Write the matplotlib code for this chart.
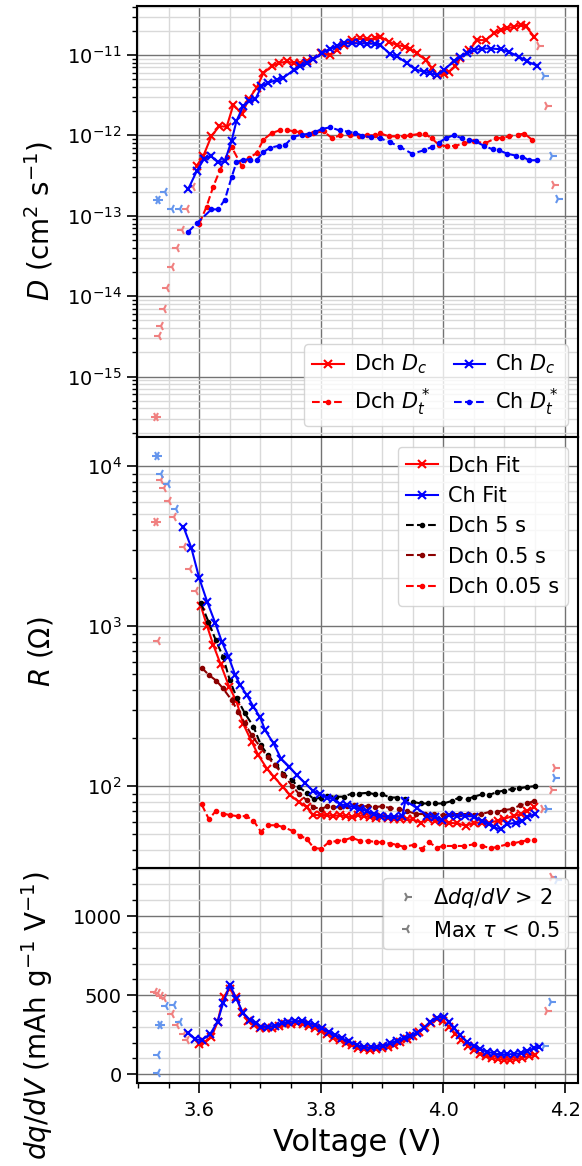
import numpy as np
import matplotlib
matplotlib.use('Agg')
import matplotlib.pyplot as plt
from matplotlib.ticker import MultipleLocator

# --- diffusion coefficients (units of 1e-12 cm^2/s) ---
DCH_DC_V = [3.596, 3.607, 3.620, 3.633, 3.645, 3.656, 3.670, 3.681, 3.694, 3.705,
            3.719, 3.730, 3.744, 3.755, 3.765, 3.776, 3.787, 3.800, 3.815, 3.826,
            3.837, 3.850, 3.864, 3.875, 3.889, 3.897, 3.911, 3.924, 3.938, 3.946,
            3.957, 3.971, 3.982, 3.990, 4.001, 4.009, 4.020, 4.028, 4.042, 4.056,
            4.070, 4.083, 4.094, 4.105, 4.116, 4.127, 4.135, 4.149]
DCH_DC = [0.42, 0.56, 0.98, 1.3, 1.28, 2.4, 1.85, 2.8, 3.9, 5.9,
          7.3, 7.9, 8.3, 7.9, 7.9, 8.3, 8.8, 10.5, 10.0, 11.5,
          13.3, 15.3, 16.1, 15.6, 16.1, 16.9, 14.6, 13.3, 12.7, 11.8,
          10.5, 8.7, 6.8, 5.6, 5.8, 6.2, 7.2, 9.1, 11.5, 15.3,
          15.3, 18.6, 20.4, 21.4, 22.5, 23.6, 23.0, 16.9]

DCH_DT_V = [3.600, 3.612, 3.623, 3.634, 3.645, 3.653, 3.670, 3.681, 3.694, 3.705,
            3.719, 3.733, 3.744, 3.755, 3.765, 3.776, 3.787, 3.804, 3.818, 3.831,
            3.848, 3.862, 3.875, 3.889, 3.897, 3.911, 3.924, 3.935, 3.946, 3.960,
            3.970, 3.981, 3.993, 4.007, 4.020, 4.034, 4.050, 4.069, 4.086, 4.097,
            4.108, 4.122, 4.133, 4.146]
DCH_DT = [0.079, 0.13, 0.23, 0.37, 0.54, 0.72, 0.41, 0.52, 0.60, 0.88,
          1.07, 1.16, 1.17, 1.12, 1.10, 1.0, 1.07, 1.12, 0.92, 1.0,
          1.01, 0.98, 1.0, 1.0, 1.06, 0.97, 0.97, 0.97, 1.0, 1.04,
          1.04, 0.92, 0.76, 0.73, 0.74, 0.80, 0.84, 0.80, 0.92, 0.93,
          0.97, 1.02, 1.05, 0.88]

CH_DC_V = [3.582, 3.596, 3.608, 3.619, 3.631, 3.642, 3.653, 3.661, 3.672, 3.682,
           3.692, 3.702, 3.713, 3.727, 3.738, 3.755, 3.765, 3.776, 3.787, 3.801,
           3.815, 3.826, 3.837, 3.850, 3.864, 3.875, 3.889, 3.897, 3.913, 3.924,
           3.941, 3.954, 3.968, 3.979, 3.990, 4.001, 4.017, 4.028, 4.039, 4.050,
           4.064, 4.079, 4.094, 4.108, 4.124, 4.138, 4.1545]
CH_DC = [0.215, 0.36, 0.51, 0.555, 0.46, 0.48, 0.85, 1.5, 2.3, 2.65,
         2.8, 4.07, 4.5, 4.9, 5.2, 6.5, 7.2, 7.9, 8.8, 10.5,
         12.0, 12.8, 14.0, 14.0, 14.0, 13.8, 13.8, 13.3, 10.2, 9.6,
         7.9, 6.6, 6.2, 5.9, 5.7, 6.5, 8.3, 9.5, 10.5, 11.5,
         12.0, 12.0, 11.8, 10.9, 9.5, 8.3, 7.3]

CH_DT_V = [3.582, 3.597, 3.620, 3.631, 3.642, 3.653, 3.661, 3.672, 3.683, 3.694,
           3.705, 3.716, 3.730, 3.741, 3.754, 3.768, 3.780, 3.790, 3.801, 3.815,
           3.830, 3.844, 3.856, 3.867, 3.881, 3.897, 3.913, 3.929, 3.949, 3.968,
           3.982, 3.993, 4.004, 4.017, 4.031, 4.042, 4.053, 4.067, 4.081, 4.092,
           4.105, 4.119, 4.130, 4.141, 4.1545]
CH_DT = [0.063, 0.082, 0.12, 0.12, 0.158, 0.30, 0.46, 0.50, 0.50, 0.49,
         0.62, 0.70, 0.74, 0.76, 0.96, 1.02, 1.04, 1.10, 1.20, 1.26,
         1.15, 1.11, 1.07, 0.99, 0.95, 0.92, 0.82, 0.72, 0.59, 0.65,
         0.72, 0.81, 0.92, 1.0, 0.92, 0.88, 0.84, 0.74, 0.67, 0.65,
         0.59, 0.56, 0.54, 0.49, 0.49]

# --- resistances (Ohm) ---
DCH_FIT_V = [3.603, 3.613, 3.623, 3.635, 3.649, 3.661, 3.672, 3.686, 3.697, 3.711,
             3.723, 3.737, 3.749, 3.763, 3.776, 3.787, 3.800, 3.810, 3.820, 3.830,
             3.840, 3.850, 3.860, 3.870, 3.880, 3.890, 3.900, 3.910, 3.920, 3.930,
             3.940, 3.950, 3.963, 3.975, 3.987, 4.000, 4.010, 4.023, 4.037, 4.050,
             4.064, 4.075, 4.090, 4.100, 4.116, 4.128, 4.138, 4.149]
DCH_FIT = [1330, 1000, 765, 580, 420, 340, 246, 190, 156, 129,
           114, 99, 88, 80, 74, 66, 66, 66, 65, 66,
           65, 64, 66, 65, 64, 63, 64, 63, 62, 62.5,
           62, 62, 59.3, 62, 61, 60, 59, 58.6, 56.6, 59,
           59.3, 59, 61, 62.5, 65.5, 67, 70, 74]

CH_FIT_V = [3.574, 3.587, 3.600, 3.613, 3.626, 3.637, 3.648, 3.659, 3.667, 3.678,
            3.689, 3.700, 3.708, 3.722, 3.734, 3.748, 3.760, 3.774, 3.786, 3.798,
            3.809, 3.820, 3.831, 3.842, 3.853, 3.864, 3.875, 3.886, 3.897, 3.910,
            3.920, 3.933, 3.938, 3.957, 3.974, 3.987, 3.998, 4.009, 4.023, 4.036,
            4.050, 4.064, 4.075, 4.083, 4.094, 4.105, 4.119, 4.130, 4.138, 4.150]
CH_FIT = [4200, 3100, 2000, 1425, 1055, 802, 646, 495, 430, 372,
          314, 269, 224, 185, 149, 132, 117, 104, 94, 89,
          85, 83, 77, 76, 74, 72, 70, 67, 65.5, 64,
          64, 65.5, 81, 73, 65.5, 64, 61.4, 66, 65.5, 65.5,
          64.5, 60.8, 58, 55.2, 54, 58, 59, 60.8, 64, 67]

DCH5_V = [3.603, 3.615, 3.627, 3.639, 3.650, 3.662, 3.675, 3.689, 3.701, 3.713,
          3.726, 3.738, 3.752, 3.763, 3.776, 3.788, 3.800, 3.810, 3.825, 3.837,
          3.850, 3.862, 3.877, 3.888, 3.900, 3.913, 3.925, 3.938, 3.950, 3.963,
          3.975, 3.987, 4.000, 4.015, 4.026, 4.040, 4.050, 4.064, 4.075, 4.088,
          4.100, 4.113, 4.125, 4.138, 4.150]
DCH5 = [1390, 1070, 820, 646, 461, 354, 285, 236, 181, 156,
        135, 120, 109, 99, 91, 83, 85, 87, 86, 86,
        90, 90, 91, 89, 89, 85, 85, 83, 80, 78,
        78, 78, 78, 81, 85, 83, 86, 89, 88, 92,
        94, 96, 97, 99, 100]

DCH05_V = [3.604, 3.616, 3.628, 3.639, 3.653, 3.664, 3.675, 3.686, 3.700, 3.712,
           3.724, 3.738, 3.752, 3.763, 3.776, 3.787, 3.800, 3.810, 3.820, 3.831,
           3.842, 3.853, 3.865, 3.877, 3.888, 3.900, 3.913, 3.928, 3.940, 3.956,
           3.970, 3.985, 4.000, 4.015, 4.028, 4.040, 4.050, 4.062, 4.076, 4.088,
           4.100, 4.113, 4.126, 4.138, 4.149]
DCH05 = [551, 495, 457, 409, 346, 292, 247, 208, 176, 153,
         135, 118, 101, 90, 82, 74, 72, 75, 74, 74,
         75, 76, 75, 75, 74, 75, 73, 72, 70, 67,
         67, 67, 66, 67, 67, 67, 66, 67, 69, 69,
         71, 72, 76, 78, 81]

DCH005_V = [3.604, 3.616, 3.627, 3.639, 3.650, 3.663, 3.677, 3.689, 3.701, 3.713,
            3.726, 3.738, 3.753, 3.765, 3.776, 3.788, 3.800, 3.812, 3.826, 3.838,
            3.850, 3.864, 3.877, 3.890, 3.900, 3.913, 3.925, 3.935, 3.952, 3.965,
            3.976, 3.990, 4.000, 4.018, 4.034, 4.050, 4.063, 4.078, 4.089, 4.105,
            4.115, 4.127, 4.138, 4.149]
DCH005 = [77, 62, 70, 67.5, 66, 65, 65, 61, 52, 57,
          57, 55.6, 52.5, 49, 47, 41, 40.7, 44.5, 45.5, 46,
          47.7, 45.5, 45.5, 44.8, 44.5, 43.8, 43, 41.8, 43, 40.4,
          44.8, 41.3, 42.3, 42.3, 42.3, 43.3, 42.5, 40.9, 41.8, 43.3,
          44, 45, 45.9, 45.9]

# --- differential capacity (mAh/g/V) ---
DCH_DQ_V = [3.60, 3.61, 3.62, 3.63, 3.64, 3.65, 3.66, 3.67, 3.68, 3.69,
            3.70, 3.71, 3.72, 3.73, 3.74, 3.75, 3.76, 3.77, 3.78, 3.79,
            3.80, 3.81, 3.82, 3.83, 3.84, 3.85, 3.86, 3.87, 3.88, 3.89,
            3.90, 3.91, 3.92, 3.93, 3.94, 3.95, 3.96, 3.97, 3.98, 3.99,
            4.00, 4.01, 4.02, 4.03, 4.04, 4.05, 4.06, 4.07, 4.08, 4.09,
            4.10, 4.11, 4.12, 4.13, 4.14, 4.15]
DCH_DQ = [190, 205, 235, 330, 490, 540, 490, 395, 340, 310,
          292, 290, 295, 305, 315, 320, 322, 318, 308, 292,
          272, 252, 232, 215, 198, 182, 168, 158, 155, 158,
          165, 175, 188, 205, 222, 240, 265, 300, 325, 348,
          340, 300, 255, 215, 178, 152, 130, 115, 103, 96,
          92, 92, 96, 105, 113, 125]

CH_DQ_V = [3.582, 3.593, 3.604, 3.618, 3.630, 3.639, 3.650, 3.661, 3.672, 3.683,
           3.693, 3.702, 3.713, 3.724, 3.735, 3.746, 3.757, 3.768, 3.779, 3.790,
           3.801, 3.812, 3.823, 3.834, 3.845, 3.859, 3.870, 3.881, 3.892, 3.902,
           3.913, 3.924, 3.935, 3.946, 3.957, 3.968, 3.979, 3.990, 4.001, 4.009,
           4.018, 4.028, 4.039, 4.050, 4.061, 4.072, 4.083, 4.094, 4.105, 4.116,
           4.127, 4.138, 4.149, 4.157]
CH_DQ = [263, 221, 216, 254, 332, 448, 563, 479, 385, 343,
         322, 300, 300, 307, 322, 332, 336, 336, 326, 311,
         290, 269, 248, 227, 208, 185, 170, 170, 172, 180,
         195, 212, 227, 242, 263, 290, 332, 359, 364, 332,
         290, 248, 206, 179, 158, 143, 132, 126, 126, 128,
         132, 149, 164, 174]

# --- rejected points: low end (max tau < 0.5), high end (d dq/dV > 2), both ---
DCH_D_LO_V = [3.534, 3.538, 3.543, 3.548, 3.555, 3.563, 3.571, 3.580, 3.590]
DCH_D_LO = [3.2e-15, 4.2e-15, 6.9e-15, 1.25e-14, 2.3e-14, 4.0e-14, 6.6e-14, 1.2e-13, 2.3e-13]
DCH_D_HI_V = [4.157, 4.171, 4.182]
DCH_D_HI = [1.3e-11, 2.3e-12, 2.4e-13]
DCH_D_BOTH_V = [3.529]
DCH_D_BOTH = [3.1e-16]
CH_D_LO_V = [3.544, 3.555, 3.568]
CH_D_LO = [2.0e-13, 1.2e-13, 1.2e-13]
CH_D_HI_V = [4.165, 4.179, 4.189]
CH_D_HI = [5.5e-12, 5.5e-13, 1.6e-13]
CH_D_BOTH_V = [3.533]
CH_D_BOTH = [1.55e-13]

DCH_R_LO_V = [3.533, 3.538, 3.543, 3.551, 3.558, 3.575, 3.585, 3.595]
DCH_R_LO = [810, 8170, 7310, 6030, 4820, 3125, 2275, 1650]
DCH_R_HI_V = [4.163, 4.179, 4.184]
DCH_R_HI = [72, 95, 130]
DCH_R_BOTH_V = [3.529]
DCH_R_BOTH = [4480]
CH_R_LO_V = [3.537, 3.549, 3.562]
CH_R_LO = [9000, 7740, 5410]
CH_R_HI_V = [4.171, 4.184]
CH_R_HI = [72, 113]
CH_R_BOTH_V = [3.531]
CH_R_BOTH = [11550]

DCH_DQ_LO_V = [3.527, 3.533, 3.538, 3.543, 3.556, 3.564, 3.575, 3.580]
DCH_DQ_LO = [521, 511, 494, 480, 380, 311, 254, 216]
DCH_DQ_HI_V = [4.171, 4.179]
DCH_DQ_HI = [401, 1250]
CH_DQ_LO_V = [3.532, 3.532, 3.545, 3.558, 3.569]
CH_DQ_LO = [6, 122, 431, 437, 332]
CH_DQ_HI_V = [4.165, 4.176, 4.187]
CH_DQ_HI = [179, 458, 1229]
CH_DQ_BOTH_V = [3.536]
CH_DQ_BOTH = [311]

plt.rcParams['font.size'] = 14
plt.rcParams['axes.linewidth'] = 1.5
plt.rcParams['legend.fontsize'] = 15
plt.rcParams['legend.handlelength'] = 1.5
plt.rcParams['legend.handletextpad'] = 0.5
plt.rcParams['legend.columnspacing'] = 1.1

LIGHT_RED = 'lightcoral'
LIGHT_BLUE = 'cornflowerblue'


def faint(ax, v, y, color, marker):
	ax.plot(v, y, ls='none', marker=marker, color=color, ms=7, mew=1.5, zorder=2)


def rejected(ax, color, lo_v, lo, hi_v, hi, both_v=(), both=()):
	faint(ax, lo_v, lo, color, '3')
	faint(ax, hi_v, hi, color, '4')
	# points failing both checks get both markers
	for mk in ('3', '4'):
		faint(ax, both_v, both, color, mk)


fig, (ax1, ax2, ax3) = plt.subplots(3, 1, sharex=True, figsize=(5.82, 11.66), dpi=100,
                                    gridspec_kw={'height_ratios': [2, 2, 1], 'hspace': 0})
fig.subplots_adjust(left=0.2354, right=0.9931, top=0.9949, bottom=0.0712)

line = dict(lw=1.5, ms=6, mew=1.5, zorder=3)
dots = dict(lw=1.5, ms=6, zorder=3)

# top: diffusion coefficients
rejected(ax1, LIGHT_RED, DCH_D_LO_V, DCH_D_LO, DCH_D_HI_V, DCH_D_HI, DCH_D_BOTH_V, DCH_D_BOTH)
rejected(ax1, LIGHT_BLUE, CH_D_LO_V, CH_D_LO, CH_D_HI_V, CH_D_HI, CH_D_BOTH_V, CH_D_BOTH)
ax1.plot(DCH_DC_V, np.array(DCH_DC) * 1e-12, 'x-', color='red', label='Dch $D_c$', **line)
ax1.plot(DCH_DT_V, np.array(DCH_DT) * 1e-12, '.--', color='red', label='Dch $D_t^*$', **dots)
ax1.plot(CH_DC_V, np.array(CH_DC) * 1e-12, 'x-', color='blue', label='Ch $D_c$', **line)
ax1.plot(CH_DT_V, np.array(CH_DT) * 1e-12, '.--', color='blue', label='Ch $D_t^*$', **dots)
ax1.set_yscale('log')
ax1.set_yticks([1e-15, 1e-14, 1e-13, 1e-12, 1e-11])
ax1.set_ylim(1.78e-16, 4.07e-11)
ax1.set_ylabel('$D$ (cm$^2$ s$^{-1}$)', fontsize=20)
ax1.legend(ncol=2, loc='lower right')

# middle: resistances
rejected(ax2, LIGHT_RED, DCH_R_LO_V, DCH_R_LO, DCH_R_HI_V, DCH_R_HI, DCH_R_BOTH_V, DCH_R_BOTH)
rejected(ax2, LIGHT_BLUE, CH_R_LO_V, CH_R_LO, CH_R_HI_V, CH_R_HI, CH_R_BOTH_V, CH_R_BOTH)
h1, = ax2.plot(DCH_FIT_V, DCH_FIT, 'x-', color='red', label='Dch Fit', **line)
h3, = ax2.plot(DCH5_V, DCH5, '.--', color='black', label='Dch 5 s', **dots)
h4, = ax2.plot(DCH05_V, DCH05, '.--', color='darkred', label='Dch 0.5 s', **dots)
h5, = ax2.plot(DCH005_V, DCH005, '.--', color='red', label='Dch 0.05 s', **dots)
h2, = ax2.plot(CH_FIT_V, CH_FIT, 'x-', color='blue', label='Ch Fit', **line)
ax2.set_yscale('log')
ax2.set_yticks([1e2, 1e3, 1e4])
ax2.set_ylim(31, 15300)
ax2.set_ylabel('$R$ ($\\Omega$)', fontsize=20)
ax2.legend(handles=[h1, h2, h3, h4, h5], loc='upper right')

# bottom: dq/dV
rejected(ax3, LIGHT_RED, DCH_DQ_LO_V, DCH_DQ_LO, DCH_DQ_HI_V, DCH_DQ_HI)
rejected(ax3, LIGHT_BLUE, CH_DQ_LO_V, CH_DQ_LO, CH_DQ_HI_V, CH_DQ_HI, CH_DQ_BOTH_V, CH_DQ_BOTH)
ax3.plot(DCH_DQ_V, DCH_DQ, 'x-', color='red', **line)
ax3.plot(CH_DQ_V, CH_DQ, 'x-', color='blue', **line)
ax3.plot([], [], ls='none', marker='4', color='gray', ms=7, mew=1.5, label='$\\Delta dq/dV$ > 2')
ax3.plot([], [], ls='none', marker='3', color='gray', ms=7, mew=1.5, label='Max $\\tau$ < 0.5')
ax3.set_yticks([0, 500, 1000])
ax3.set_ylim(-55, 1307)
ax3.yaxis.set_minor_locator(MultipleLocator(100))
ax3.set_ylabel('$dq/dV$ (mAh g$^{-1}$ V$^{-1}$)', fontsize=20)
ax3.set_xlabel('Voltage (V)', fontsize=22, labelpad=6)
ax3.legend(loc='upper right')

ax3.set_xticks([3.6, 3.8, 4.0, 4.2])
ax3.set_xlim(3.498, 4.221)
ax3.xaxis.set_minor_locator(MultipleLocator(0.05))

for ax in (ax1, ax2, ax3):
	ax.set_axisbelow(True)
	ax.grid(which='major', color='0.45', lw=1.0)
	ax.grid(which='minor', color='0.85', lw=1.0)
	ax.tick_params(which='major', length=7, width=1.2, pad=4, labelsize=14)
	ax.tick_params(which='minor', length=3.5, width=1.0)
ax3.tick_params(axis='x', which='major', pad=6)

# line the y labels up on one column
ax1.yaxis.set_label_coords(-0.185, 0.5)
ax2.yaxis.set_label_coords(-0.185, 0.5)
ax3.yaxis.set_label_coords(-0.185, 0.31)

plt.savefig('out.png', dpi=100)
